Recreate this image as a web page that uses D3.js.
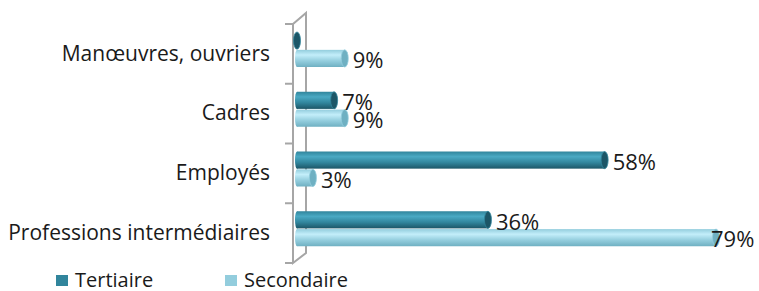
<!DOCTYPE html>
<html>
<head>
<meta charset="utf-8">
<script src="https://cdn.jsdelivr.net/npm/d3@7"></script>
<style>
  body { margin: 0; background: #fff; }
  svg { display: block; font-family: "Open Sans", sans-serif; }
</style>
</head>
<body>
<svg></svg>
<script>
// categories, top to bottom
let categories = ['Manœuvres, ouvriers', 'Cadres', 'Employés', 'Professions intermédiaires'];
let series = ['Tertiaire', 'Secondaire'];
// values in percent
let tertiaire = [0, 7, 58, 36];
let secondaire = [9, 9, 3, 79];

let width = 759;
let height = 291;
let svg = d3.select('svg').attr('width', width).attr('height', height);

// colours
let colors = { Tertiaire: ['#4aa9c3', '#31859c', '#1c5667'], Secondaire: ['#c3eefa', '#93cddd', '#6fb0c2'] };
let legendColors = { Tertiaire: '#31859c', Secondaire: '#93cddd' };

// scales
let xScale = d3.scaleLinear().domain([0, 100]).range([297, 297 + 530.4]);
let yScale = d3.scaleBand().domain(categories).range([24, 263]);
let subScale = d3.scaleBand().domain(series).range([8, 43]).paddingInner(0.04);

// gradients for cylinder look
let defs = svg.append('defs');
series.forEach(s => {
  let g = defs.append('linearGradient').attr('id', 'g-' + s)
    .attr('x1', 0).attr('y1', 0).attr('x2', 0).attr('y2', 1);
  g.append('stop').attr('offset', '0%').attr('stop-color', colors[s][1]);
  g.append('stop').attr('offset', '30%').attr('stop-color', colors[s][0]);
  g.append('stop').attr('offset', '65%').attr('stop-color', colors[s][1]);
  g.append('stop').attr('offset', '100%').attr('stop-color', colors[s][2]);
});

// 3D wall
let wall = svg.append('g').attr('stroke', '#a6a6a6').attr('stroke-width', 2).attr('fill', 'none');
wall.append('path').attr('d', 'M293,24 L293,263 L306,253 L306,13 L293,24');

// tick marks at band edges
let edges = categories.map(c => yScale(c)).concat([yScale.range()[1]]);
wall.selectAll('line.tick').data(edges).join('line')
  .attr('x1', 285).attr('x2', 293)
  .attr('y1', d => d).attr('y2', d => d);

// category labels
let yAxis = d3.axisLeft(yScale).tickSize(0).tickPadding(23);
let axisG = svg.append('g').attr('transform', 'translate(293,0)').call(yAxis);
axisG.select('.domain').remove();
axisG.selectAll('text')
  .attr('font-family', '"Open Sans", sans-serif')
  .attr('font-size', 21)
  .attr('fill', '#1a1a1a');

// bars
let rows = [];
categories.forEach((c, i) => {
  rows.push({ cat: c, s: 'Tertiaire', v: tertiaire[i] });
  rows.push({ cat: c, s: 'Secondaire', v: secondaire[i] });
});

let bars = svg.append('g');
let labels = svg.append('g');
rows.forEach(d => {
  let y0 = yScale(d.cat) + subScale(d.s);
  let h = subScale.bandwidth();
  let x0 = xScale(0);
  let x1 = xScale(d.v);
  let g = bars.append('g');
  if (d.v > 0) {
    g.append('rect')
      .attr('x', x0).attr('y', y0)
      .attr('width', x1 - x0).attr('height', h)
      .attr('fill', 'url(#g-' + d.s + ')');
    g.append('ellipse')
      .attr('cx', x0).attr('cy', y0 + h / 2)
      .attr('rx', 2).attr('ry', h / 2)
      .attr('fill', 'url(#g-' + d.s + ')');
  }
  g.append('ellipse')
    .attr('cx', x1).attr('cy', y0 + h / 2)
    .attr('rx', 3.5).attr('ry', h / 2)
    .attr('fill', colors[d.s][2])
    .attr('stroke', colors[d.s][1]).attr('stroke-width', 0.8);

  // value label
  let lx = Math.min(x1 + 8, 711);
  labels.append('text')
    .attr('x', lx).attr('y', y0 + h / 2 + 2)
    .attr('dy', '0.35em')
    .attr('font-size', 22)
    .attr('fill', '#1a1a1a')
    .text(d.v > 0 ? d.v + '%' : '');
});

// legend
let legend = svg.append('g');
let legendX = [56, 225];
series.forEach((s, i) => {
  legend.append('rect')
    .attr('x', legendX[i]).attr('y', 275)
    .attr('width', 12).attr('height', 11)
    .attr('fill', legendColors[s]);
  legend.append('text')
    .attr('x', legendX[i] + 19).attr('y', 279.5)
    .attr('dy', '0.35em')
    .attr('font-size', 20)
    .attr('fill', '#1a1a1a')
    .text(s);
});
</script>
</body>
</html>
